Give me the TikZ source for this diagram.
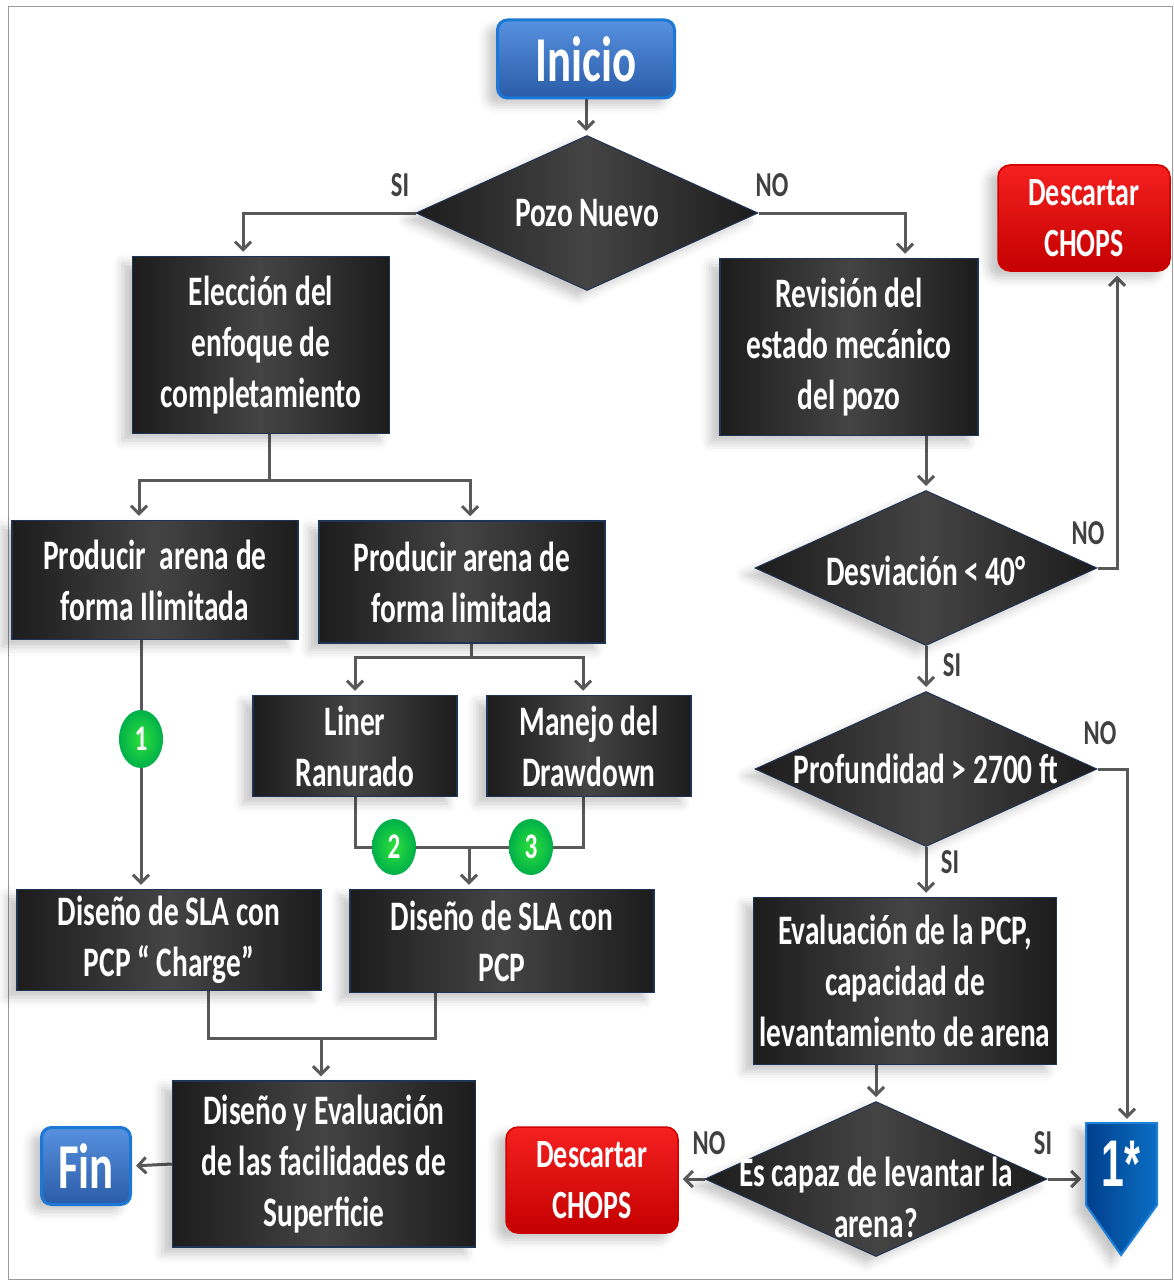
\documentclass[tikz,border=0pt]{standalone}
\usepackage{fontspec}
\setmainfont{Carlito}[FakeStretch=0.7]
\newfontfamily\unofont{Liberation Sans}[FakeStretch=0.62]
\usetikzlibrary{shapes.geometric,arrows.meta,backgrounds,shadows.blur}
\definecolor{gris}{HTML}{595959}
\definecolor{marco}{HTML}{9A9A9A}
\definecolor{bordecaja}{HTML}{1F3354}
\definecolor{cajaosc}{HTML}{1C1C1C}
\definecolor{cajaclara}{HTML}{444444}
\definecolor{azularriba}{HTML}{5791E0}
\definecolor{azulabajo}{HTML}{2A5CA8}
\definecolor{azulborde}{HTML}{1C78D4}
\definecolor{rojoarriba}{HTML}{F52020}
\definecolor{rojoabajo}{HTML}{C40000}
\definecolor{rojoborde}{HTML}{D00000}
\definecolor{verdein}{HTML}{2EE03A}
\definecolor{verdeout}{HTML}{00B04A}
\definecolor{unoizq}{HTML}{003F8C}
\definecolor{unoder}{HTML}{0A6FC4}
\definecolor{unoborde}{HTML}{1F80D8}

\tikzset{
  sombra/.style={blur shadow={shadow xshift=-10pt,shadow yshift=-7pt,shadow blur radius=9pt,shadow opacity=22}},
  caja/.style={rectangle,draw=bordecaja,line width=1.5pt,left color=cajaosc,right color=cajaosc,middle color=cajaclara,text=white,align=center,inner sep=0pt,font=\fontsize{42}{51}\selectfont\bfseries,sombra},
  decision/.style={diamond,draw=bordecaja,line width=1pt,left color=cajaosc,right color=cajaosc,middle color=cajaclara,inner sep=0pt,minimum width=342pt,minimum height=155pt,sombra},
  dtexto/.style={text=white,align=center,inner sep=0pt,font=\fontsize{42}{51}\selectfont\bfseries},
  terminal/.style={rectangle,rounded corners=10pt,draw=azulborde,line width=3pt,top color=azularriba,bottom color=azulabajo,text=white,inner sep=0pt,font=\fontsize{64}{64}\selectfont\bfseries,sombra},
  descarte/.style={rectangle,rounded corners=12pt,draw=rojoborde,line width=1.5pt,top color=rojoarriba,bottom color=rojoabajo,text=white,align=center,inner sep=0pt,minimum width=172pt,minimum height=106pt,font=\fontsize{40}{51}\selectfont\bfseries,sombra},
  paso/.style={ellipse,draw=none,inner color=verdein,outer color=verdeout,text=white,inner sep=0pt,minimum width=44pt,minimum height=58pt,font=\fontsize{36}{36}\selectfont\bfseries},
  rama/.style={text=black!75,inner sep=0pt,font=\fontsize{35}{35}\selectfont\bfseries},
  linea/.style={draw=gris,line width=3pt},
  flecha/.style={linea,shorten >=4pt,-{Straight Barb[length=8pt,width=16pt]}}
}

\begin{document}
\begin{tikzpicture}[x=1pt,y=-1pt]
  \useasboundingbox (0,0) rectangle (1174,1284);
  % columna central y derecha
  \node[terminal,minimum width=177pt,minimum height=78pt] (inicio) at (586,59) {Inicio};
  \node[decision,label={[dtexto]center:Pozo Nuevo}] (pozo) at (587,213) {};
  \node[caja,minimum width=257pt,minimum height=177pt] (eleccion) at (261,345) {Elección del\\enfoque de\\completamiento};
  \node[caja,minimum width=258pt,minimum height=177pt] (revision) at (849,347) {Revisión del\\estado mecánico\\del pozo};
  \node[descarte] (descarte1) at (1084,218) {Descartar\\CHOPS};
  \node[decision,label={[dtexto,yshift=-3pt]center:Desviación < 40°}] (desviacion) at (926,568) {};
  \node[decision,label={[dtexto]center:Profundidad > 2700 ft}] (profundidad) at (926,769) {};
  \node[caja,minimum width=303pt,minimum height=167pt] (evaluacion) at (905,981) {Evaluación de la PCP,\\capacidad de\\levantamiento de arena};
  \node[decision,label={[dtexto,yshift=-18pt]center:{Es capaz de levantar la\\arena?}}] (capaz) at (876,1179) {};
  \node[descarte] (descarte2) at (592,1180) {Descartar\\CHOPS};
  \shade[left color=unoizq,right color=unoder,draw=unoborde,line width=2pt,sombra] (1086,1123) -- (1157,1123) -- (1157,1205) -- (1121,1255) -- (1086,1205) -- cycle;
  \node[text=white,minimum width=71pt,minimum height=82pt,font=\unofont\fontsize{66}{66}\selectfont\bfseries] (uno) at (1121,1164) {1*};
  % columna izquierda
  \node[caja,minimum width=286pt,minimum height=119pt] (ilimitada) at (155,580) {Producir\ \ arena de\\forma Ilimitada};
  \node[caja,minimum width=286pt,minimum height=122pt] (limitada) at (462,582) {Producir arena de\\forma limitada};
  \node[caja,minimum width=204pt,minimum height=101pt] (liner) at (355,746) {Liner\\Ranurado};
  \node[caja,minimum width=204pt,minimum height=101pt] (manejo) at (589,746) {Manejo del\\Drawdown};
  \node[paso] (paso1) at (141,739) {1};
  \node[paso,minimum height=56pt] (paso2) at (394,847) {2};
  \node[paso,minimum height=56pt] (paso3) at (531,847) {3};
  \node[caja,minimum width=304pt,minimum height=101pt] (charge) at (169,940) {Diseño de SLA con\\PCP “ Charge”};
  \node[caja,minimum width=304pt,minimum height=103pt] (pcp) at (502,941) {Diseño de SLA con\\PCP};
  \node[caja,minimum width=303pt,minimum height=166pt] (superficie) at (324,1164) {Diseño y Evaluación\\de las facilidades de\\Superficie};
  \node[terminal,minimum width=89pt,minimum height=77pt] (fin) at (86,1166) {Fin};
  % ramas SI / NO
  \node[rama] (si1) at (400,185) {SI};
  \node[rama] (no1) at (772,185) {NO};
  \node[rama] (no2) at (1088,533) {NO};
  \node[rama] (si2) at (952,665) {SI};
  \node[rama] (no3) at (1100,733) {NO};
  \node[rama] (si3) at (950,862) {SI};
  \node[rama] (no4) at (709,1143) {NO};
  \node[rama] (si4) at (1043,1143) {SI};
  \coordinate (split1) at (269,480);
  \coordinate (split2) at (471,657);
  \coordinate (join1) at (469,847);
  \coordinate (join2) at (321,1038);
  \begin{scope}[on background layer]
    \draw[marco,line width=1pt] (8,7) rectangle (1172,1279);
    \draw[flecha] (inicio) -- (inicio |- pozo.north);
    \draw[flecha] (pozo.west) -| ([xshift=-18pt]eleccion.north);
    \draw[flecha] (pozo.east) -| ([xshift=56pt]revision.north);
    \draw[flecha] (desviacion.north |- revision.south) -- (desviacion.north);
    \draw[flecha] (desviacion.east) -| ([xshift=33pt]descarte1.south);
    \draw[flecha] (desviacion) -- (profundidad);
    \draw[flecha] (profundidad.east) -| ([xshift=6pt]uno.north);
    \draw[flecha] (profundidad.south) -- (profundidad.south |- evaluacion.north);
    \draw[flecha] (capaz.north |- evaluacion.south) -- (capaz.north);
    \draw[flecha] (capaz.west) -- (capaz.west -| descarte2.east);
    \draw[flecha] (capaz.east) -- (capaz.east -| uno.west);
    \draw[linea] (split1 |- eleccion.south) -- (split1);
    \draw[flecha] (split1) -| ([xshift=-16pt]ilimitada.north);
    \draw[flecha] (split1) -| ([xshift=8pt]limitada.north);
    \draw[linea] (split2 |- limitada.south) -- (split2);
    \draw[flecha] (split2) -| (liner.north);
    \draw[flecha] (split2) -| ([xshift=-6pt]manejo.north);
    \draw[flecha] (paso1 |- ilimitada.south) -- (paso1 |- charge.north);
    \draw[linea] (liner.south) |- (paso2) -- (paso3) -| ([xshift=-6pt]manejo.south);
    \draw[flecha] (join1) -- (join1 |- pcp.north);
    \draw[linea] ([xshift=39pt]charge.south) |- (join2) -| ([xshift=-67pt]pcp.south);
    \draw[flecha] (join2) -- (join2 |- superficie.north);
    \draw[flecha] (superficie.west) -- (fin.east);
  \end{scope}
\end{tikzpicture}
\end{document}
